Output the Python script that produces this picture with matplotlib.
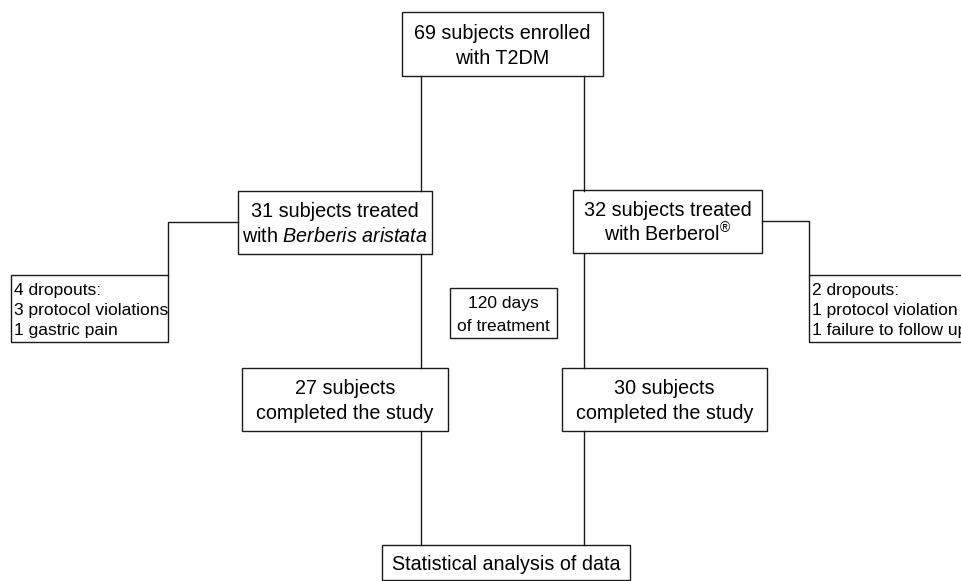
import matplotlib.pyplot as plt
from matplotlib.patches import Rectangle

plt.rcParams["font.family"] = ["Liberation Sans", "DejaVu Sans"]
plt.rcParams["mathtext.fontset"] = "custom"
plt.rcParams["mathtext.rm"] = "Liberation Sans"
plt.rcParams["mathtext.it"] = "Liberation Sans:italic"

# box texts
enrolled = "69 subjects enrolled\nwith T2DM"
arm_labels = [
    "31 subjects treated\nwith $\\it{Berberis}$ $\\it{aristata}$",
    "32 subjects treated\nwith Berberol$^{\\mathrm{®}}$",
]
dropout_labels = [
    "4 dropouts:\n3 protocol violations\n1 gastric pain",
    "2 dropouts:\n1 protocol violation\n1 failure to follow up",
]
completed_labels = [
    "27 subjects\ncompleted the study",
    "30 subjects\ncompleted the study",
]
treatment_label = "120 days\nof treatment"
analysis_label = "Statistical analysis of data"

# layout in pixel coordinates (x0, y0, x1, y1)
top_box = (402, 12, 603, 76)
arm_boxes = [(238, 191, 432, 254), (573, 190, 762, 253)]
drop_boxes = [(11, 275, 168, 342), (809, 275, 1000, 342)]
done_boxes = [(242, 368, 448, 431), (562, 368, 767, 431)]
days_box = (450, 288, 557, 338)
final_box = (382, 545, 630, 580)
trunks = [421, 584]

LC = "#1a1a1a"
LW = 1.0

fig = plt.figure(figsize=(9.61, 5.81), dpi=100)
ax = fig.add_axes([0, 0, 1, 1])
ax.set_xlim(0, 961)
ax.set_ylim(581, 0)
ax.axis("off")


def draw_box(box, text, size=14.2, align="center", pitch=25):
    x0, y0, x1, y1 = box
    ax.add_patch(Rectangle((x0, y0), x1 - x0, y1 - y0, fill=False,
                           edgecolor=LC, linewidth=LW, zorder=3))
    lines = text.split("\n")
    cy = (y0 + y1) / 2
    cap = 0.716 * size * 100 / 72
    first = cy - pitch * (len(lines) - 1) / 2
    for i, line in enumerate(lines):
        base = first + i * pitch + cap / 2
        if align == "center":
            ax.text((x0 + x1) / 2, base, line, ha="center", va="baseline",
                    fontsize=size)
        else:
            ax.text(x0 + 3, base, line, ha="left", va="baseline",
                    fontsize=size)


# vertical trunks
for x in trunks:
    ax.plot([x, x], [top_box[3], arm_boxes[0][1]], color=LC, lw=LW)
    ax.plot([x, x], [arm_boxes[0][3], done_boxes[0][1]], color=LC, lw=LW)
    ax.plot([x, x], [done_boxes[0][3], final_box[1]], color=LC, lw=LW)

# dropout connectors
ax.plot([arm_boxes[0][0], drop_boxes[0][2], drop_boxes[0][2]],
        [222, 222, drop_boxes[0][1]], color=LC, lw=LW)
ax.plot([arm_boxes[1][2], drop_boxes[1][0], drop_boxes[1][0]],
        [221, 221, drop_boxes[1][1]], color=LC, lw=LW)

draw_box(top_box, enrolled)
for box, label in zip(arm_boxes, arm_labels):
    draw_box(box, label)
for box, label in zip(drop_boxes, dropout_labels):
    draw_box(box, label, size=12.5, align="left", pitch=20)
for box, label in zip(done_boxes, completed_labels):
    draw_box(box, label)
draw_box(days_box, treatment_label, size=12.5, pitch=23)
draw_box(final_box, analysis_label)

fig.savefig("out.png", dpi=100)
